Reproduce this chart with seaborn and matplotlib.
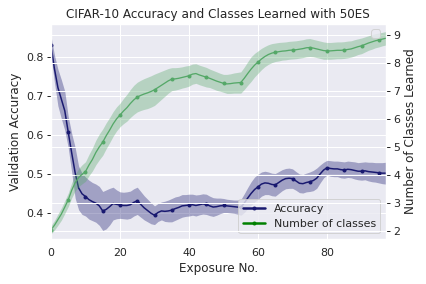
import numpy as np
import pandas as pd
import matplotlib
matplotlib.use('Agg')
import matplotlib.pyplot as plt
from matplotlib.lines import Line2D
import seaborn as sns

# exposure index 0..97
exposure = list(range(98))

acc_mean = [
    0.830, 0.770, 0.722, 0.692, 0.662, 0.607, 0.554, 0.503, 0.464, 0.449,
    0.442, 0.434, 0.429, 0.425, 0.418, 0.405, 0.409, 0.416, 0.424, 0.422,
    0.420, 0.419, 0.419, 0.421, 0.427, 0.431, 0.422, 0.413, 0.406, 0.399,
    0.394, 0.401, 0.405, 0.404, 0.405, 0.407, 0.411, 0.414, 0.418, 0.419,
    0.420, 0.421, 0.419, 0.421, 0.423, 0.422, 0.418, 0.415, 0.416, 0.418,
    0.419, 0.418, 0.417, 0.416, 0.415, 0.414, 0.425, 0.438, 0.450, 0.460,
    0.467, 0.474, 0.477, 0.476, 0.473, 0.472, 0.478, 0.484, 0.488, 0.489,
    0.488, 0.482, 0.476, 0.475, 0.478, 0.480, 0.483, 0.489, 0.500, 0.510,
    0.516, 0.514, 0.513, 0.513, 0.511, 0.510, 0.512, 0.511, 0.509, 0.507,
    0.507, 0.508, 0.506, 0.505, 0.504, 0.503, 0.502, 0.502,
]
acc_spread = [
    0.025, 0.035, 0.047, 0.050, 0.050, 0.040, 0.050, 0.065, 0.056, 0.053,
    0.050, 0.050, 0.049, 0.049, 0.050, 0.050, 0.050, 0.047, 0.042, 0.037,
    0.034, 0.034, 0.035, 0.035, 0.035, 0.035, 0.033, 0.031, 0.029, 0.027,
    0.024, 0.023, 0.023, 0.026, 0.028, 0.030, 0.030, 0.029, 0.029, 0.028,
    0.028, 0.027, 0.027, 0.026, 0.026, 0.026, 0.025, 0.024, 0.022, 0.020,
    0.018, 0.017, 0.017, 0.017, 0.018, 0.020, 0.024, 0.027, 0.030, 0.032,
    0.032, 0.031, 0.030, 0.029, 0.029, 0.029, 0.028, 0.027, 0.026, 0.026,
    0.025, 0.024, 0.024, 0.024, 0.024, 0.025, 0.026, 0.026, 0.023, 0.020,
    0.019, 0.020, 0.020, 0.020, 0.021, 0.021, 0.021, 0.021, 0.022, 0.022,
    0.023, 0.023, 0.024, 0.025, 0.025, 0.026, 0.027, 0.028,
]
cls_mean = [
    2.04, 2.20, 2.40, 2.60, 2.85, 3.11, 3.45, 3.72, 3.90, 4.02,
    4.12, 4.35, 4.55, 4.80, 5.00, 5.17, 5.40, 5.60, 5.82, 6.00,
    6.14, 6.28, 6.40, 6.55, 6.68, 6.78, 6.84, 6.89, 6.93, 6.98,
    7.04, 7.12, 7.20, 7.28, 7.36, 7.42, 7.43, 7.45, 7.48, 7.51,
    7.54, 7.60, 7.62, 7.57, 7.53, 7.49, 7.45, 7.40, 7.35, 7.31,
    7.27, 7.25, 7.26, 7.28, 7.29, 7.30, 7.45, 7.62, 7.78, 7.92,
    8.03, 8.14, 8.23, 8.30, 8.35, 8.38, 8.40, 8.42, 8.43, 8.45,
    8.46, 8.47, 8.49, 8.51, 8.54, 8.55, 8.53, 8.50, 8.47, 8.44,
    8.43, 8.43, 8.44, 8.45, 8.45, 8.46, 8.48, 8.50, 8.54, 8.58,
    8.61, 8.66, 8.71, 8.75, 8.79, 8.82, 8.85, 8.88,
]
cls_spread = [
    0.15, 0.17, 0.20, 0.22, 0.23, 0.24, 0.27, 0.30, 0.32, 0.34,
    0.35, 0.38, 0.41, 0.44, 0.46, 0.47, 0.46, 0.45, 0.44, 0.43,
    0.42, 0.45, 0.48, 0.50, 0.52, 0.53, 0.54, 0.55, 0.56, 0.56,
    0.56, 0.53, 0.50, 0.47, 0.44, 0.41, 0.40, 0.39, 0.38, 0.38,
    0.37, 0.36, 0.35, 0.35, 0.35, 0.35, 0.33, 0.33, 0.33, 0.32,
    0.32, 0.34, 0.35, 0.36, 0.37, 0.38, 0.40, 0.42, 0.44, 0.42,
    0.40, 0.38, 0.36, 0.35, 0.34, 0.33, 0.33, 0.32, 0.32, 0.32,
    0.32, 0.32, 0.32, 0.32, 0.32, 0.32, 0.31, 0.31, 0.31, 0.31,
    0.30, 0.30, 0.30, 0.30, 0.30, 0.30, 0.30, 0.29, 0.29, 0.28,
    0.28, 0.27, 0.26, 0.26, 0.25, 0.25, 0.24, 0.24,
]

ACC_COLOR = 'midnightblue'
CLS_COLOR = '#55a868'


def main():
    sns.set_theme(style='darkgrid')
    df = pd.DataFrame({'exposure': exposure, 'acc': acc_mean, 'acc_sd': acc_spread,
                       'cls': cls_mean, 'cls_sd': cls_spread})

    fig, ax = plt.subplots(figsize=(426 / 72, 284 / 72), dpi=72)
    fig.subplots_adjust(left=0.1197, right=0.9054, top=0.9155, bottom=0.1585)

    # accuracy on the left axis
    ax.fill_between(df['exposure'], df['acc'] - df['acc_sd'], df['acc'] + df['acc_sd'],
                    color=ACC_COLOR, alpha=0.35, linewidth=0)
    sns.lineplot(x='exposure', y='acc', data=df, ax=ax, color=ACC_COLOR, marker='o',
                 markersize=4, markevery=5, markeredgewidth=0, linewidth=1.5)
    ax.set_xlim(0, 97)
    ax.set_ylim(0.333, 0.885)
    ax.set_xticks([0, 20, 40, 60, 80])
    ax.set_yticks([0.4, 0.5, 0.6, 0.7, 0.8])
    ax.set_xlabel('Exposure No.')
    ax.set_ylabel('Validation Accuracy')
    ax.set_title('CIFAR-10 Accuracy and Classes Learned with 50ES')
    ax.tick_params(axis='y', length=4, width=1, color='.15')

    # classes learned on the right axis
    ax2 = ax.twinx()
    ax2.fill_between(df['exposure'], df['cls'] - df['cls_sd'], df['cls'] + df['cls_sd'],
                     color=CLS_COLOR, alpha=0.35, linewidth=0)
    sns.lineplot(x='exposure', y='cls', data=df, ax=ax2, color=CLS_COLOR, marker='o',
                 markersize=4, markevery=5, markeredgewidth=0, linewidth=1.3)
    ax2.set_ylim(1.71, 9.39)
    ax2.set_yticks(range(2, 10))
    ax2.set_ylabel('Number of Classes Learned')
    ax2.tick_params(axis='y', length=4, width=1, color='.15')
    ax2.legend(handles=[], loc='upper right')

    handles = [
        Line2D([0], [0], color=ACC_COLOR, lw=2.5, marker='o', markersize=3),
        Line2D([0], [0], color='green', lw=2.5, marker='o', markersize=3),
    ]
    ax.legend(handles, ['Accuracy', 'Number of classes'], loc='lower right')

    fig.savefig('out.png', dpi=72)
    plt.close(fig)


if __name__ == '__main__':
    main()
